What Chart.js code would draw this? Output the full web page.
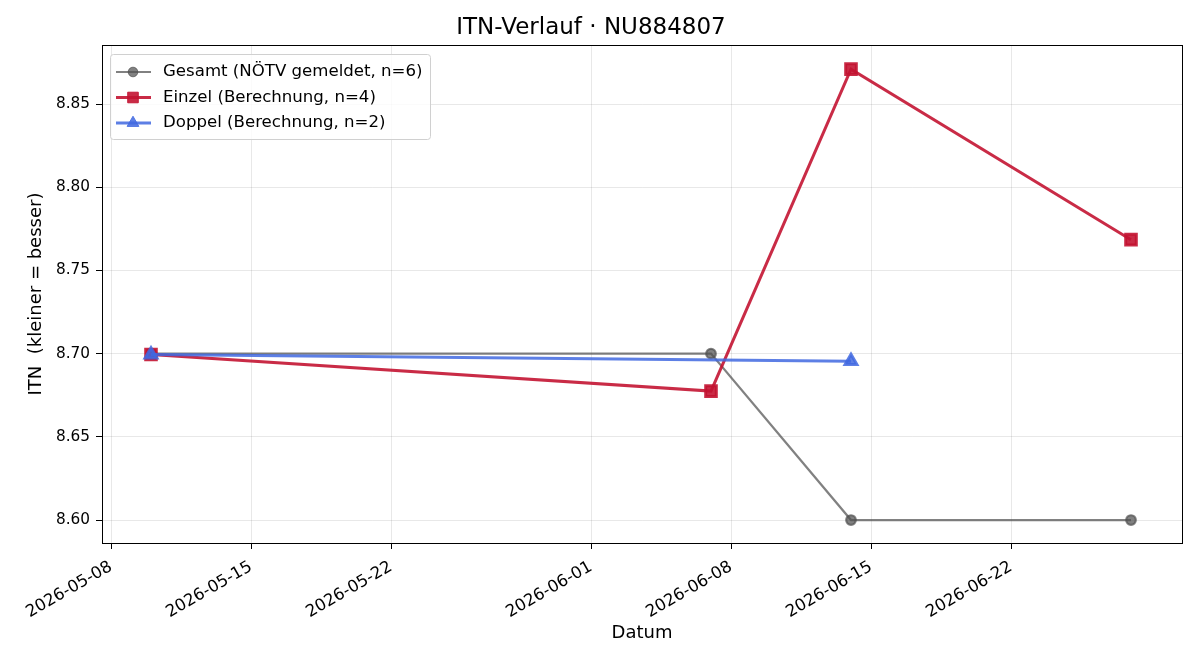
<!DOCTYPE html>
<html>
<head>
<meta charset="utf-8">
<script src="https://cdn.jsdelivr.net/npm/chart.js@4/dist/chart.umd.min.js"></script>
<style>
  html, body { margin: 0; padding: 0; background: #fff; }
  #wrap { width: 1200px; height: 660px; }
</style>
</head>
<body>
<div id="wrap"><canvas id="itnChart" width="1200" height="660"></canvas></div>
<script>
// Data
var gesamtDates = ['2026-05-10', '2026-06-07', '2026-06-14', '2026-06-28'];
var gesamtValues = [8.700, 8.700, 8.600, 8.600];
var einzelDates = ['2026-05-10', '2026-06-07', '2026-06-14', '2026-06-28'];
var einzelValues = [8.6995, 8.6775, 8.8710, 8.7685];
var doppelDates = ['2026-05-10', '2026-06-14'];
var doppelValues = [8.6995, 8.6955];
var xTickDates = ['2026-05-08', '2026-05-15', '2026-05-22', '2026-06-01', '2026-06-08', '2026-06-15', '2026-06-22'];
var yTicks = [8.60, 8.65, 8.70, 8.75, 8.80, 8.85];

// x axis is days since 2026-05-08 (no date adapter available)
var DAY = 86400000;
var T0 = Date.parse('2026-05-08');
function toDay(d) { return (Date.parse(d) - T0) / DAY; }
function toLabel(v) {
    var d = new Date(T0 + Math.round(v) * DAY);
    return d.toISOString().slice(0, 10);
}
function points(dates, values) {
    return dates.map(function (d, i) { return { x: toDay(d), y: values[i] }; });
}

var FONT = "'DejaVu Sans', sans-serif";
var grey = 'rgba(80,80,80,0.72)';
var red = 'rgba(195,20,50,0.9)';
var blue = 'rgba(65,105,225,0.85)';

var datasets = [
    { label: 'Gesamt (NÖTV gemeldet, n=6)', data: points(gesamtDates, gesamtValues),
      borderColor: grey, backgroundColor: grey, borderWidth: 2.2,
      pointStyle: 'circle', pointRadius: 4.8, order: 3 },
    { label: 'Einzel (Berechnung, n=4)', data: points(einzelDates, einzelValues),
      borderColor: red, backgroundColor: red, borderWidth: 3,
      pointStyle: 'rect', pointRadius: 7.5, order: 2 },
    { label: 'Doppel (Berechnung, n=2)', data: points(doppelDates, doppelValues),
      borderColor: blue, backgroundColor: blue, borderWidth: 3,
      pointStyle: 'triangle', pointRadius: 6.8, order: 1 }
];

// frame around the plot area
var framePlugin = {
    id: 'frame',
    afterDraw: function (chart) {
        var a = chart.chartArea, ctx = chart.ctx;
        ctx.save();
        ctx.strokeStyle = '#000';
        ctx.lineWidth = 1;
        ctx.strokeRect(Math.round(a.left) + 0.5, Math.round(a.top) + 0.5,
            Math.round(a.right - a.left), Math.round(a.bottom - a.top));
        ctx.restore();
    }
};

// matplotlib style legend in upper left corner
var legendPlugin = {
    id: 'mplLegend',
    afterDraw: function (chart) {
        var ctx = chart.ctx;
        var x = 110, y = 54, w = 320, h = 85;
        ctx.save();
        ctx.beginPath();
        if (ctx.roundRect) ctx.roundRect(x + 0.5, y + 0.5, w, h, 3); else ctx.rect(x + 0.5, y + 0.5, w, h);
        ctx.fillStyle = 'rgba(255,255,255,0.8)';
        ctx.fill();
        ctx.strokeStyle = '#d0d0d0';
        ctx.lineWidth = 1;
        ctx.stroke();
        chart.data.datasets.forEach(function (ds, i) {
            var cy = 72 + i * 25.5;
            ctx.beginPath();
            ctx.strokeStyle = ds.borderColor;
            ctx.lineWidth = ds.borderWidth;
            ctx.moveTo(116, cy);
            ctx.lineTo(151, cy);
            ctx.stroke();
            ctx.fillStyle = ds.backgroundColor;
            ctx.strokeStyle = ds.borderColor;
            ctx.lineWidth = 1;
            Chart.helpers.drawPoint(ctx, { pointStyle: ds.pointStyle, radius: ds.pointRadius, rotation: 0, borderWidth: 1 }, 133, cy);
            ctx.fillStyle = '#000';
            ctx.font = '16.6px ' + FONT;
            ctx.textBaseline = 'middle';
            ctx.textAlign = 'left';
            ctx.fillText(ds.label, 163, cy);
        });
        ctx.restore();
    }
};

new Chart(document.getElementById('itnChart'), {
    type: 'line',
    data: { datasets: datasets },
    plugins: [framePlugin, legendPlugin],
    options: {
        responsive: false,
        animation: false,
        layout: { padding: { left: 0, right: 18, top: 0, bottom: 0 } },
        plugins: {
            legend: { display: false },
            tooltip: { enabled: false },
            title: {
                display: true,
                text: 'ITN-Verlauf · NU884807',
                color: '#000',
                font: { family: FONT, size: 23, weight: 'normal' },
                padding: { top: 14, bottom: 3.4 }
            }
        },
        scales: {
            x: {
                type: 'linear',
                min: -0.45,
                max: 53.55,
                afterBuildTicks: function (scale) {
                    scale.ticks = xTickDates.map(function (d) { return { value: toDay(d) }; });
                },
                afterFit: function (scale) { scale.height = 117; },
                ticks: {
                    autoSkip: false,
                    minRotation: 30,
                    maxRotation: 30,
                    color: '#000',
                    padding: 8,
                    font: { family: FONT, size: 16.6 },
                    callback: function (v) { return toLabel(v); }
                },
                grid: { color: 'rgba(0,0,0,0.09)', tickColor: '#000', tickLength: 6, lineWidth: 1 },
                border: { color: '#000' },
                title: {
                    display: true, text: 'Datum', color: '#000',
                    font: { family: FONT, size: 18 },
                    padding: { top: 16, bottom: 16 }
                }
            },
            y: {
                type: 'linear',
                min: 8.5862,
                max: 8.8855,
                afterBuildTicks: function (scale) {
                    scale.ticks = yTicks.map(function (v) { return { value: v }; });
                },
                afterFit: function (scale) { scale.width = 102; },
                ticks: {
                    color: '#000',
                    padding: 6,
                    font: { family: FONT, size: 15.3 },
                    callback: function (v) { return v.toFixed(2); }
                },
                grid: { color: 'rgba(0,0,0,0.09)', tickColor: '#000', tickLength: 6, lineWidth: 1 },
                border: { color: '#000' },
                title: {
                    display: true, text: 'ITN  (kleiner = besser)', color: '#000',
                    font: { family: FONT, size: 18 },
                    padding: { top: 26, bottom: 26 }
                }
            }
        }
    }
});
</script>
</body>
</html>
